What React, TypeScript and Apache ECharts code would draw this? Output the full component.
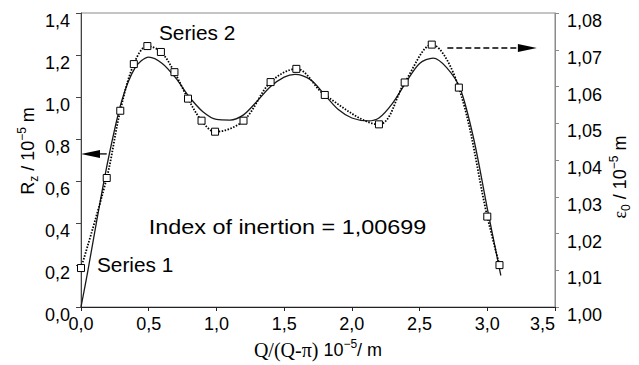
import React, { useEffect, useRef } from 'react';
import * as echarts from 'echarts';

// ---- data ----
const xMin = 0;
const xMax = 3.5;
const xInterval = 0.5;
const leftMin = 0;
const leftMax = 1.4;
const leftInterval = 0.2;
const rightMin = 1.0;
const rightMax = 1.08;
const rightInterval = 0.01;

// Series 1: solid curve, left axis (R_z)
const series1X = [0, 0.05, 0.116, 0.2, 0.3, 0.4, 0.5, 0.6, 0.7, 0.8, 0.9, 1.0, 1.1, 1.2, 1.3, 1.4, 1.5, 1.58, 1.7, 1.8, 1.9, 2.0, 2.12, 2.2, 2.3, 2.4, 2.5, 2.6, 2.7, 2.8, 2.9, 3.0, 3.1];
const series1Y = [0, 0.17, 0.41, 0.7, 0.98, 1.14, 1.19, 1.16, 1.09, 1.0, 0.93, 0.893, 0.89, 0.915, 0.98, 1.05, 1.095, 1.108, 1.08, 1.01, 0.94, 0.9, 0.886, 0.9, 0.97, 1.07, 1.16, 1.185, 1.14, 1.04, 0.8, 0.47, 0.15];

// Series 2: dotted curve with square markers, right axis (epsilon_0)
const series2X = [0, 0.19, 0.29, 0.39, 0.49, 0.59, 0.69, 0.79, 0.89, 0.99, 1.2, 1.4, 1.59, 1.8, 2.2, 2.39, 2.59, 2.79, 3.0, 3.09];
const series2Y = [1.0106, 1.0351, 1.0534, 1.0661, 1.071, 1.0694, 1.0639, 1.0567, 1.0507, 1.0477, 1.0507, 1.0612, 1.0648, 1.0577, 1.0497, 1.0611, 1.0714, 1.0597, 1.0246, 1.0114];

// annotation anchors (data coordinates)
const leftArrowFrom = [0.19, 0.729];
const leftArrowTo = [0, 0.729];
const rightArrowFrom = [2.705, 1.0705];
const rightArrowTo = [3.366, 1.0705];
const series2LabelAt = [0.576, 1.305];
const series1LabelAt = [0.118, 0.2];
const indexLabelAt = [0.5, 0.381];
const indexText = 'Index of inertion = 1,00699';

const FONT = '"Liberation Sans", Arial, Helvetica, sans-serif';
const SERIF = '"Liberation Serif", "Times New Roman", serif';
const comma = (v: number, d: number) => v.toFixed(d).replace('.', ',');

export default function App() {
  const ref = useRef<HTMLDivElement>(null);
  useEffect(() => {
    const chart = echarts.init(ref.current!, null, { renderer: 'svg' });
    const labelBase = { color: '#000', fontSize: 18, fontFamily: FONT };
    chart.setOption({
      animation: false,
      backgroundColor: '#fff',
      grid: { left: 81, right: 84, top: 13, bottom: 58, show: true, borderColor: '#8a8a8a', borderWidth: 1, backgroundColor: 'transparent' },
      xAxis: {
        type: 'value', min: xMin, max: xMax, interval: xInterval,
        axisLine: { show: true, lineStyle: { color: '#222', width: 1 } },
        axisTick: { show: true, length: 4, lineStyle: { color: '#222' } },
        splitLine: { show: false },
        axisLabel: { ...labelBase, margin: 8, formatter: (v: number) => comma(v, 1), alignMaxLabel: 'right' },
      },
      yAxis: [
        {
          type: 'value', position: 'left', min: leftMin, max: leftMax, interval: leftInterval,
          axisLine: { show: true, lineStyle: { color: '#444', width: 1 } },
          axisTick: { show: true, length: 5, lineStyle: { color: '#444' } },
          splitLine: { show: false },
          axisLabel: { ...labelBase, margin: 11, verticalAlign: 'top', lineHeight: 15, formatter: (v: number) => comma(v, 1) },
        },
        {
          type: 'value', position: 'right', min: rightMin, max: rightMax, interval: rightInterval,
          axisLine: { show: true, lineStyle: { color: '#8a8a8a', width: 1 } },
          axisTick: { show: true, length: 4, lineStyle: { color: '#8a8a8a' } },
          splitLine: { show: false },
          axisLabel: { ...labelBase, margin: 12, verticalAlign: 'top', lineHeight: 16, formatter: (v: number) => comma(v, 2) },
        },
      ],
      series: [
        {
          name: 'Series 1', type: 'line', yAxisIndex: 0, smooth: 0.3, showSymbol: false,
          lineStyle: { color: '#1a1a1a', width: 1.3 },
          data: series1X.map((x, i) => [x, series1Y[i]]),
        },
        {
          name: 'Series 2', type: 'line', yAxisIndex: 1, smooth: 0.35,
          symbol: 'rect', symbolSize: 7,
          itemStyle: { color: '#fff', borderColor: '#000', borderWidth: 1 },
          lineStyle: { color: '#000', width: 1.8, type: [1.5, 1.5] },
          data: series2X.map((x, i) => [x, series2Y[i]]),
          z: 3,
        },
      ],
    });

    const px = (p: number[], s: number) => chart.convertToPixel({ seriesIndex: s }, p) as number[];
    const la = px(leftArrowFrom, 0);
    const lb = px(leftArrowTo, 0);
    const ra = px(rightArrowFrom, 1);
    const rb = px(rightArrowTo, 1);
    const s2 = px(series2LabelAt, 0);
    const s1 = px(series1LabelAt, 0);
    const il = px(indexLabelAt, 0);
    const headLen = 19;
    const headHalf = 4;

    const rich = {
      n: { fontSize: 18, fontFamily: FONT, fill: '#000', lineHeight: 24, verticalAlign: 'middle' },
      e: { fontSize: 18, fontFamily: SERIF, fill: '#000', lineHeight: 24, verticalAlign: 'middle' },
      q: { fontSize: 20, fontFamily: SERIF, fill: '#000', lineHeight: 24, verticalAlign: 'middle' },
      sup: { fontSize: 12, fontFamily: FONT, fill: '#000', lineHeight: 12, verticalAlign: 'top' },
      sub: { fontSize: 12, fontFamily: FONT, fill: '#000', lineHeight: 12, verticalAlign: 'bottom' },
    };

    chart.setOption({
      graphic: [
        { type: 'line', shape: { x1: la[0], y1: la[1], x2: lb[0] + headLen, y2: lb[1] }, style: { stroke: '#000', lineWidth: 1.3 } },
        { type: 'polygon', shape: { points: [[lb[0], lb[1]], [lb[0] + headLen, lb[1] - headHalf], [lb[0] + headLen, lb[1] + headHalf]] }, style: { fill: '#000' } },
        { type: 'line', shape: { x1: ra[0], y1: ra[1], x2: rb[0] - headLen, y2: rb[1] }, style: { stroke: '#000', lineWidth: 1.5, lineDash: [6, 3] } },
        { type: 'polygon', shape: { points: [[rb[0], rb[1]], [rb[0] - headLen, rb[1] - headHalf], [rb[0] - headLen, rb[1] + headHalf]] }, style: { fill: '#000' } },
        { type: 'text', x: s2[0], y: s2[1], scaleX: 1.04, style: { text: 'Series 2', fontSize: 20, fontFamily: FONT, fill: '#000', align: 'left', verticalAlign: 'middle' } },
        { type: 'text', x: s1[0], y: s1[1], scaleX: 1.04, style: { text: 'Series 1', fontSize: 20, fontFamily: FONT, fill: '#000', align: 'left', verticalAlign: 'middle' } },
        { type: 'text', x: il[0], y: il[1], scaleX: 1.17, style: { text: indexText, fontSize: 20, fontFamily: FONT, fill: '#000', align: 'left', verticalAlign: 'middle' } },
        {
          type: 'text', x: 28, y: 151, rotation: Math.PI / 2,
          style: { text: '{n|R}{sub|z}{n| / 10}{sup|\u22125}{n| m}', rich, align: 'center', verticalAlign: 'middle' },
        },
        {
          type: 'text', x: 620, y: 177, rotation: Math.PI / 2,
          style: { text: '{e|\u03b5}{sub|0}{n| / 10}{sup|\u22125}{n| m}', rich, align: 'center', verticalAlign: 'middle' },
        },
        {
          type: 'text', x: 318, y: 350,
          style: { text: '{q|Q/(Q-\u03c0)}{n| 10}{sup|\u22125}{n|/ m}', rich, align: 'center', verticalAlign: 'middle' },
        },
      ],
    });
    return () => chart.dispose();
  }, []);
  return <div ref={ref} style={{ position: 'fixed', left: 0, top: 0, width: 639, height: 365, background: '#fff' }} />;
}
